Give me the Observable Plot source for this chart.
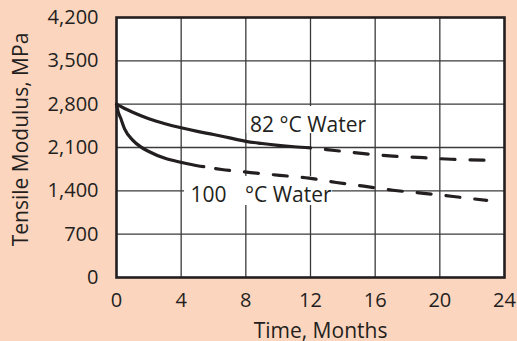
<!DOCTYPE html>
<html>
<head>
<meta charset="utf-8">
<script src="https://cdn.jsdelivr.net/npm/d3@7"></script>
<script src="https://cdn.jsdelivr.net/npm/@observablehq/plot@0.6"></script>
<style>
  html, body { margin: 0; padding: 0; background: #fcd5bf; }
  #chart { width: 517px; height: 341px; overflow: hidden; }
</style>
</head>
<body>
<div id="chart"></div>
<script>
// ---- data ----
const xTicks = [0, 4, 8, 12, 16, 20, 24];
const xTickLabels = ["0", "4", "8", "12", "16", "20", "24"];
const yTicks = [0, 700, 1400, 2100, 2800, 3500, 4200];
const yTickLabels = ["0", "700", "1,400", "2,100", "2,800", "3,500", "4,200"];
const xGrid = [4, 8, 12, 16, 20];
const yGrid = [700, 1400, 2100, 2800, 3500];

// 82 °C Water – measured (solid)
const months82 = [0, 0.5, 1, 2, 3, 4, 5, 6, 7, 8, 9, 10, 11, 12];
const modulus82 = [2800, 2730, 2670, 2565, 2485, 2418, 2360, 2310, 2255, 2200, 2165, 2135, 2112, 2095];
// 82 °C Water – projected (dashed)
const months82Proj = [12, 13.5, 15.3, 17.1, 19, 20.7, 22.9];
const modulus82Proj = [2095, 2052, 2000, 1960, 1935, 1910, 1895];

// 100 °C Water – measured (solid)
const months100 = [0, 0.1, 0.25, 0.5, 1, 1.5, 2, 3, 4, 5, 5.4];
const modulus100 = [2800, 2680, 2580, 2400, 2220, 2110, 2035, 1925, 1860, 1805, 1790];
// 100 °C Water – projected (dashed)
const months100Proj = [5.4, 6.5, 8.3, 10.1, 11.9, 13.6, 15.3, 17.1, 19, 20.7, 22.9];
const modulus100Proj = [1790, 1745, 1695, 1650, 1605, 1535, 1475, 1410, 1360, 1312, 1245];

// curve labels
const labelTexts = ["82 °C Water", "100", "°C Water"];
const labelMonths = [8.26, 4.58, 7.95];
const labelModulus = [2455, 1325, 1325];

const xTitle = "Time, Months";
const yTitle = "Tensile Modulus, MPa";

// ---- chart ----
const ink = "#231f20";
const grid = { stroke: "#3a3a3a", strokeWidth: 1.3 };
const curve = { curve: "monotone-x", stroke: ink, strokeWidth: 3.2 };
const chart = Plot.plot({
  width: 517,
  height: 341,
  marginLeft: 116,
  marginRight: 13,
  marginTop: 17,
  marginBottom: 64,
  x: { domain: [0, 24] },
  y: { domain: [0, 4200] },
  style: { background: "transparent", fontFamily: "'Open Sans', sans-serif", fontSize: "20px", color: ink, overflow: "visible" },
  marks: [
    Plot.frame({ fill: "white" }),
    Plot.ruleX(xGrid, grid),
    Plot.ruleY(yGrid, grid),
    // white boxes behind the curve labels (anchored on the label positions)
    Plot.rect([0], { x1: i => labelMonths[i], x2: i => labelMonths[i], y1: i => labelModulus[i], y2: i => labelModulus[i],
      fill: "white", insetLeft: -3, insetRight: -122, insetTop: -19, insetBottom: -8 }),
    Plot.rect([1], { x1: i => labelMonths[i], x2: i => labelMonths[i], y1: i => labelModulus[i], y2: i => labelModulus[i],
      fill: "white", insetLeft: -6, insetRight: -142, insetTop: -19, insetBottom: -10 }),
    Plot.text(labelTexts, {
      x: labelMonths, y: labelModulus, text: labelTexts,
      textAnchor: "start", lineAnchor: "middle", fontSize: 21, fill: ink
    }),
    Plot.line(months82, { x: months82, y: modulus82, ...curve }),
    Plot.line(months82Proj, { x: months82Proj, y: modulus82Proj, ...curve, strokeDasharray: "14 15", strokeDashoffset: 14 }),
    Plot.line(months100, { x: months100, y: modulus100, ...curve }),
    Plot.line(months100Proj, { x: months100Proj, y: modulus100Proj, ...curve, strokeDasharray: "14 15", strokeDashoffset: 17 }),
    Plot.frame({ stroke: ink, strokeWidth: 2.6 }),
    Plot.axisX({ ticks: xTicks, tickSize: 0, tickPadding: 15, tickFormat: (d, i) => xTickLabels[i], label: null, fontSize: 20, fill: ink }),
    Plot.axisY({ ticks: yTicks, tickSize: 0, tickPadding: 18, tickFormat: (d, i) => yTickLabels[i], label: null, fontSize: 20, fill: ink }),
    Plot.text([xTitle], { frameAnchor: "bottom", text: d => d, textAnchor: "middle", lineAnchor: "middle", dy: 54, dx: 10, fontSize: 21, fill: ink }),
    Plot.text([yTitle], { frameAnchor: "left", text: d => d, textAnchor: "middle", rotate: -90, lineAnchor: "middle", dx: -95, dy: -8, fontSize: 21, fill: ink })
  ]
});
document.getElementById("chart").append(chart);
</script>
</body>
</html>
